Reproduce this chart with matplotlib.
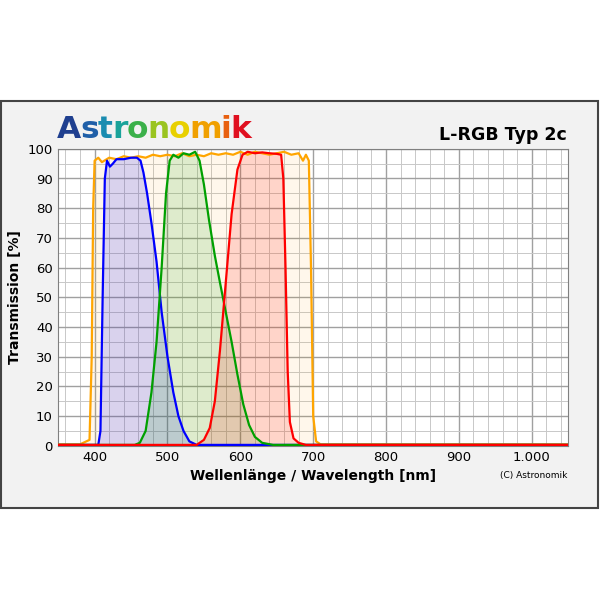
import matplotlib
matplotlib.use("Agg")
import matplotlib.pyplot as plt
import numpy as np
from matplotlib.patches import Rectangle

# filter curves (wavelength nm, transmission %)
l_wl = [350, 380, 393, 396, 398, 400, 405, 410, 420, 430, 440, 450, 460, 470, 480, 490,
        500, 510, 520, 530, 540, 550, 560, 570, 580, 590, 600, 610, 620, 630, 640,
        650, 660, 670, 680, 686, 690, 694, 697, 700, 704, 710, 1050]
l_tr = [0.5, 0.5, 2, 30, 80, 96, 97, 95.5, 97, 96.5, 97.5, 97, 97.5, 97, 98, 97.5,
        98, 97.5, 98.5, 97.5, 98, 97.5, 98.5, 98, 98.5, 98, 99, 98, 99, 98.5, 98,
        98.5, 99, 98, 98.5, 96, 98, 96, 60, 10, 1.5, 0.5, 0.5]
b_wl = [350, 405, 408, 411, 414, 417, 421, 425, 430, 440, 450, 458, 463, 467, 472,
        478, 485, 492, 500, 508, 515, 522, 530, 540, 1050]
b_tr = [0.3, 0.3, 5, 50, 90, 96, 94, 95, 96.5, 96.5, 97, 97, 96, 92, 85, 75, 62, 45,
        30, 18, 10, 5, 1.5, 0.3, 0.3]
g_wl = [350, 455, 462, 470, 478, 485, 492, 498, 503, 508, 515, 522, 530, 538, 544,
        550, 557, 565, 572, 580, 588, 596, 604, 612, 620, 630, 645, 1050]
g_tr = [0.3, 0.3, 1, 5, 18, 35, 60, 85, 96, 98, 97, 98.5, 98, 99, 96, 88, 76, 64, 55,
        45, 35, 24, 14, 7, 3, 1, 0.3, 0.3]
r_wl = [350, 540, 550, 558, 565, 572, 580, 588, 596, 603, 610, 620, 630, 640, 650,
        656, 659, 662, 665, 668, 673, 680, 690, 1050]
r_tr = [0.3, 0.3, 2, 6, 15, 32, 55, 78, 93, 98, 99, 98.5, 98.8, 98.5, 98.3, 98, 90,
        60, 25, 8, 2.5, 1, 0.3, 0.3]

curves = [
    (l_wl, l_tr, "#ffa500"),
    (b_wl, b_tr, "#0000ff"),
    (g_wl, g_tr, "#00a000"),
    (r_wl, r_tr, "#ff0000"),
]
fill_alpha = [0.08, 0.15, 0.13, 0.14]

logo_letters = list("Astronomik")
logo_colors = ["#1f3f8f", "#1f5fa8", "#1a8cb0", "#1aa39a", "#3bb04a",
               "#9ac420", "#e8d000", "#f0a000", "#e86010", "#e01020"]

fig = plt.figure(figsize=(6, 6), dpi=100)
fig.patch.set_facecolor("white")
fig.patches.append(Rectangle((0.002, 0.153), 0.994, 0.679, transform=fig.transFigure,
                             facecolor="#f2f2f2", edgecolor="#444444", lw=1.5, zorder=-10))

ax = fig.add_axes([0.097, 0.257, 0.85, 0.495])
ax.set_facecolor("white")
for (wl, tr, c), a in zip(curves, fill_alpha):
    ax.fill_between(wl, tr, 0, color=c, alpha=a, lw=0, zorder=1)
for wl, tr, c in curves:
    ax.plot(wl, tr, color=c, lw=1.6, zorder=3)

ax.set_xlim(350, 1050)
ax.set_ylim(0, 100)
ax.set_xticks([400, 500, 600, 700, 800, 900, 1000])
ax.set_xticklabels(["400", "500", "600", "700", "800", "900", "1.000"])
ax.set_xticks(np.arange(360, 1050, 20), minor=True)
ax.set_yticks(np.arange(0, 101, 10))
ax.set_yticks(np.arange(5, 100, 10), minor=True)
ax.grid(which="major", color="#a0a0a0", lw=1.0, zorder=0)
ax.grid(which="minor", color="#c8c8c8", lw=0.7, zorder=0)
ax.set_axisbelow(True)
ax.tick_params(which="both", length=0, labelsize=9.5, pad=4)
for s in ax.spines.values():
    s.set_color("#808080")
ax.set_xlabel("Wellenlänge / Wavelength [nm]", fontsize=10, fontweight="bold", labelpad=3)
ax.set_ylabel("Transmission [%]", fontsize=10, fontweight="bold", labelpad=4)

fig.text(0.945, 0.775, "L-RGB Typ 2c", ha="right", va="center", fontsize=12.5,
         fontweight="bold")
fig.text(0.945, 0.208, "(C) Astronomik", ha="right", va="center", fontsize=6.5)

# logo: letters placed one after another
renderer = fig.canvas.get_renderer()
x = 0.095
for ch, c in zip(logo_letters, logo_colors):
    t = fig.text(x, 0.785, ch, fontsize=22.5, fontweight="heavy", color=c,
                 ha="left", va="center")
    bb = t.get_window_extent(renderer)
    x += bb.width / fig.bbox.width - 0.0015

fig.savefig("out.png", dpi=100)
